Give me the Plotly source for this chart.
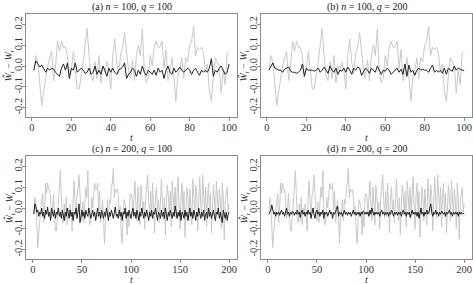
import plotly.graph_objects as go

t100 = list(range(1, 101))
t200 = list(range(1, 201))

grey_a = [-0.02, 0.05, 0.02, -0.10, -0.19, -0.12, -0.05, 0.00, 0.04, 0.07,
          -0.07, 0.00, 0.12, 0.07, 0.12, 0.09, 0.09, 0.05, -0.05, -0.02,
          0.07, -0.02, -0.11, -0.11, -0.05, 0.02, 0.10, 0.18, 0.05, -0.05,
          -0.07, 0.02, -0.06, 0.05, -0.08, 0.00, -0.03, 0.02, -0.02, -0.11,
          0.05, 0.13, 0.02, -0.04, 0.06, 0.09, 0.16, 0.05, -0.02, -0.06,
          0.03, -0.07, 0.05, 0.10, 0.05, 0.18, -0.03, -0.08, -0.06, 0.05,
          0.00, 0.09, 0.12, 0.09, 0.09, 0.12, -0.01, 0.08, -0.07, -0.03,
          0.04, -0.05, -0.17, -0.05, -0.02, 0.04, -0.06, 0.04, 0.02, 0.10,
          0.12, 0.19, 0.05, 0.09, 0.08, 0.09, 0.06, -0.03, 0.01, -0.12,
          -0.17, -0.05, 0.04, 0.02, 0.00, -0.13, -0.02, -0.09, 0.06, 0.07]

grey_extra = [0.05, -0.03, 0.08, 0.13, 0.02, -0.06, 0.10, 0.04, -0.08, 0.11,
              0.06, -0.02, 0.03, -0.10, 0.05, 0.12, 0.16, 0.04, -0.05, 0.08,
              -0.04, 0.12, 0.02, -0.12, 0.06, 0.10, -0.02, 0.04, -0.07, 0.09,
              0.14, 0.03, -0.06, 0.05, -0.13, 0.02, 0.11, 0.06, -0.03, 0.08,
              -0.09, 0.13, 0.04, -0.02, 0.10, -0.05, 0.07, 0.15, 0.00, -0.10,
              0.06, 0.12, -0.03, 0.08, -0.14, 0.03, 0.10, 0.05, -0.06, 0.09,
              0.02, -0.08, 0.14, 0.04, -0.03, 0.11, 0.06, -0.11, 0.07, 0.15,
              0.03, -0.05, 0.16, 0.08, -0.02, 0.10, -0.09, 0.05, 0.12, -0.04,
              0.07, -0.12, 0.02, 0.11, 0.05, -0.06, 0.13, 0.01, -0.03, 0.09,
              0.04, -0.10, 0.12, 0.06, -0.15, 0.03, 0.08, 0.10, -0.02, 0.02]

grey_c = grey_a + grey_extra

black_a = [-0.02, 0.025, 0.01, -0.005, 0.005, -0.01, -0.03, -0.01, -0.02, -0.01,
           -0.015, -0.03, -0.04, -0.05, -0.01, 0.01, -0.02, 0.015, -0.06, -0.01,
           -0.02, 0.015, -0.03, -0.02, -0.01, -0.02, -0.035, -0.03, -0.01, -0.04,
           -0.03, 0.0, -0.04, -0.02, -0.04, 0.0, -0.02, -0.05, -0.01, -0.03,
           -0.01, -0.03, -0.04, -0.02, -0.01, -0.005, 0.015, -0.06, -0.04, -0.03,
           -0.01, -0.02, -0.05, -0.02, -0.04, 0.0, -0.03, -0.045, -0.02, -0.03,
           -0.04, -0.02, -0.045, -0.01, -0.03, -0.02, -0.06, -0.02, 0.0, -0.03,
           -0.04, -0.01, -0.03, -0.02, -0.005, -0.02, -0.03, -0.02, -0.01, -0.02,
           -0.04, -0.02, -0.01, -0.03, -0.045, -0.02, -0.03, -0.02, -0.03, -0.01,
           0.035, -0.05, -0.02, -0.03, -0.01, 0.0, -0.02, -0.04, -0.03, 0.01]

black_b = [-0.02, -0.005, 0.015, -0.01, -0.015, -0.02, -0.02, -0.03, -0.015, -0.01,
           -0.005, -0.025, -0.03, -0.03, -0.035, -0.03, -0.02, 0.01, -0.05, -0.01,
           -0.02, -0.02, -0.02, -0.025, -0.02, -0.01, -0.03, -0.02, -0.005, -0.02,
           -0.035, 0.0, -0.02, -0.03, -0.01, -0.04, -0.02, -0.025, -0.01, -0.03,
           -0.005, -0.02, -0.04, -0.01, -0.02, -0.005, -0.01, -0.045, -0.03, -0.01,
           -0.02, -0.035, -0.01, -0.02, -0.03, 0.0, -0.02, -0.04, -0.02, -0.025,
           -0.01, -0.02, -0.04, -0.03, -0.02, -0.01, -0.03, -0.015, -0.04, 0.01,
           -0.05, 0.005, -0.03, -0.02, -0.045, -0.02, -0.01, -0.02, -0.015, -0.02,
           -0.02, -0.03, -0.01, 0.005, -0.03, -0.02, -0.03, -0.02, -0.035, -0.01,
           -0.04, -0.01, -0.02, -0.025, 0.0, -0.02, -0.01, -0.015, -0.02, -0.02]

black_c = [-0.03, 0.02, 0.01, -0.02, -0.01, -0.04, -0.02, -0.03, 0.0, -0.04,
           -0.02, -0.05, -0.01, -0.03, 0.005, -0.04, -0.02, -0.06, 0.0, -0.03,
           -0.04, -0.01, -0.05, -0.02, -0.03, 0.0, -0.04, -0.02, -0.05, -0.01,
           -0.03, -0.06, -0.02, -0.04, 0.0, -0.03, -0.05, -0.01, -0.04, -0.02,
           -0.06, -0.02, -0.03, 0.0, -0.05, -0.02, 0.02, -0.07, -0.03, -0.01,
           -0.04, -0.02, -0.05, -0.01, -0.03, -0.04, 0.0, -0.02, -0.05, -0.03,
           -0.01, -0.04, -0.02, -0.06, -0.03, 0.0, -0.04, -0.02, -0.05, -0.01,
           -0.03, -0.05, -0.02, -0.04, 0.0, -0.03, -0.06, -0.02, -0.04, -0.01,
           -0.03, -0.05, -0.02, 0.005, -0.04, -0.03, -0.05, -0.01, -0.04, -0.02,
           -0.06, -0.02, -0.03, 0.0, -0.05, -0.02, -0.04, -0.01, -0.03, -0.05,
           -0.02, 0.0, -0.04, -0.02, -0.05, -0.01, -0.03, -0.06, -0.02, -0.04,
           0.0, -0.03, -0.05, -0.02, -0.04, -0.01, -0.03, -0.06, -0.02, -0.04,
           -0.01, -0.05, -0.02, -0.03, 0.0, -0.04, -0.06, -0.02, -0.03, -0.05,
           -0.01, -0.04, -0.02, -0.05, 0.0, -0.03, -0.06, -0.02, -0.04, -0.01,
           -0.03, -0.05, -0.02, -0.04, 0.01, -0.03, -0.05, -0.02, -0.04, -0.01,
           -0.06, -0.02, -0.03, -0.05, -0.01, -0.04, -0.02, -0.06, -0.03, 0.0,
           -0.04, -0.02, -0.05, -0.01, -0.03, -0.06, -0.02, -0.04, 0.0, -0.03,
           -0.05, -0.02, -0.04, -0.01, -0.06, -0.03, -0.02, -0.05, 0.0, -0.04,
           -0.02, -0.05, -0.03, -0.01, -0.04, -0.06, -0.02, -0.03, 0.0, -0.05,
           -0.02, -0.04, -0.07, -0.01, -0.03, -0.05, -0.02, -0.06, -0.03, -0.02]

black_d = [-0.03, -0.02, -0.01, 0.015, -0.01, -0.03, -0.02, -0.04, -0.02, -0.03,
           -0.02, -0.035, -0.02, -0.01, -0.03, -0.02, -0.04, -0.02, 0.0, -0.03,
           -0.02, -0.04, -0.02, -0.03, -0.015, -0.02, -0.035, -0.02, -0.03, -0.01,
           -0.03, -0.02, -0.045, -0.02, -0.01, -0.03, -0.02, -0.04, -0.02, -0.03,
           -0.01, -0.03, -0.02, -0.05, -0.02, 0.0, -0.03, -0.05, -0.02, -0.01,
           -0.03, -0.02, -0.04, -0.02, -0.03, -0.01, -0.05, -0.02, -0.03, -0.02,
           -0.04, -0.02, -0.01, -0.03, -0.02, -0.05, -0.02, -0.03, -0.02, 0.0,
           0.01, -0.04, -0.02, -0.03, -0.02, -0.04, -0.02, -0.01, -0.03, -0.02,
           -0.035, -0.02, -0.03, -0.02, -0.04, -0.02, -0.01, -0.03, -0.02, -0.035,
           -0.02, -0.03, -0.02, -0.04, -0.02, -0.03, -0.015, -0.02, -0.03, -0.02,
           -0.03, -0.02, -0.04, -0.01, -0.03, 0.0, -0.02, -0.035, -0.02, -0.03,
           -0.02, -0.03, -0.02, -0.04, -0.02, -0.01, -0.03, -0.02, -0.035, -0.02,
           -0.03, -0.02, -0.04, -0.02, -0.03, -0.01, -0.02, -0.04, -0.02, -0.03,
           -0.02, -0.035, -0.02, -0.03, -0.02, -0.04, -0.02, -0.01, -0.03, -0.02,
           -0.04, -0.02, -0.03, -0.02, -0.045, -0.02, -0.01, -0.03, -0.02, -0.03,
           -0.02, -0.04, -0.02, -0.05, -0.02, 0.0, -0.03, -0.02, -0.04, -0.02,
           -0.03, -0.01, -0.03, -0.02, 0.0, 0.02, -0.02, -0.04, -0.02, -0.03,
           -0.01, -0.03, -0.02, -0.04, -0.02, -0.03, -0.015, -0.02, -0.03, -0.02,
           -0.04, -0.02, -0.03, -0.02, -0.01, -0.03, -0.02, -0.04, -0.02, -0.03,
           -0.02, -0.03, -0.02, -0.04, -0.02, -0.03, -0.02, -0.03, -0.025, -0.03]

panel_titles = ["(a) <i>n</i> = 100, <i>q</i> = 100",
                "(b) <i>n</i> = 100, <i>q</i> = 200",
                "(c) <i>n</i> = 200, <i>q</i> = 100",
                "(d) <i>n</i> = 200, <i>q</i> = 200"]
ytick_vals = [-0.2, -0.1, 0.0, 0.1, 0.2]
ytick_text = ["-0.2", "-0.1", "0.0", "0.1", "0.2"]
xticks_100 = [0, 20, 40, 60, 80, 100]
xticks_200 = [0, 50, 100, 150, 200]

W, H = 473, 284
FONT = "Liberation Serif, Times New Roman, serif"
GREY_LINE = "#c9c9c9"
DARK_LINE = "#222222"
FRAME = "#8c8c8c"
TXT = "#333333"

panels = [
    dict(t=t100, grey=grey_a, black=black_a, xl=26, xr=237, yt=14, yb=117, xr_=[-3, 104], xt=xticks_100),
    dict(t=t100, grey=grey_a, black=black_b, xl=261, xr=472, yt=14, yb=117, xr_=[-3, 104], xt=xticks_100),
    dict(t=t200, grey=grey_c, black=black_c, xl=26, xr=237, yt=156, yb=259, xr_=[-7, 208], xt=xticks_200),
    dict(t=t200, grey=grey_c, black=black_d, xl=261, xr=472, yt=156, yb=259, xr_=[-7, 208], xt=xticks_200),
]

fig = go.Figure()
layout = dict(width=W, height=H, margin=dict(l=0, r=0, t=0, b=0, autoexpand=False),
              paper_bgcolor="white", plot_bgcolor="white", showlegend=False,
              font=dict(family=FONT, size=11, color=TXT))
annotations = []
for i, p in enumerate(panels):
    k = "" if i == 0 else str(i + 1)
    xa, ya = "x" + k, "y" + k
    fig.add_trace(go.Scatter(x=p["t"], y=p["grey"], mode="lines", xaxis=xa, yaxis=ya,
                             line=dict(color=GREY_LINE, width=1)))
    fig.add_trace(go.Scatter(x=p["t"], y=p["black"], mode="lines", xaxis=xa, yaxis=ya,
                             line=dict(color=DARK_LINE, width=1)))
    layout["xaxis" + k] = dict(domain=[p["xl"] / W, p["xr"] / W], anchor=ya, range=p["xr_"],
                               automargin=False, ticklabelstandoff=-3,
                               tickvals=p["xt"], showgrid=False, zeroline=False,
                               showline=True, mirror=True, linecolor=FRAME, linewidth=1,
                               ticks="outside", ticklen=3, tickcolor=FRAME,
                               tickfont=dict(size=10.5, family=FONT, color=TXT))
    layout["yaxis" + k] = dict(domain=[1 - p["yb"] / H, 1 - p["yt"] / H], anchor=xa,
                               range=[-0.245, 0.25], tickvals=ytick_vals, ticktext=ytick_text,
                               automargin=False, ticklabelstandoff=-4,
                               tickangle=-90, showgrid=False, zeroline=False,
                               showline=True, mirror=True, linecolor=FRAME, linewidth=1,
                               ticks="outside", ticklen=3, tickcolor=FRAME,
                               tickfont=dict(size=10.5, family=FONT, color=TXT))
    cx = (p["xl"] + p["xr"]) / 2 / W
    annotations.append(dict(text=panel_titles[i], xref="paper", yref="paper",
                            x=cx, y=1 - (p["yt"] - 7) / H,
                            xanchor="center", yanchor="middle", showarrow=False,
                            font=dict(size=10, family=FONT, color="#222")))
    annotations.append(dict(text="<i>t</i>", xref="paper", yref="paper",
                            x=cx, y=1 - (p["yb"] + 20) / H,
                            xanchor="center", yanchor="middle", showarrow=False,
                            font=dict(size=10, family=FONT, color=TXT)))
    annotations.append(dict(text="<i>Ŵ</i><sub><i>t</i></sub> − <i>W</i><sub><i>t</i></sub>",
                            xref="paper", yref="paper", textangle=-90,
                            x=(p["xl"] - 17) / W, y=1 - (p["yt"] + p["yb"]) / 2 / H,
                            xanchor="center", yanchor="middle", showarrow=False,
                            font=dict(size=10, family=FONT, color=TXT)))
layout["annotations"] = annotations
fig.update_layout(**layout)
fig.write_html("out.html", config={"displayModeBar": False, "staticPlot": True},
               post_script="document.body.style.margin='0';document.body.style.padding='0';")
